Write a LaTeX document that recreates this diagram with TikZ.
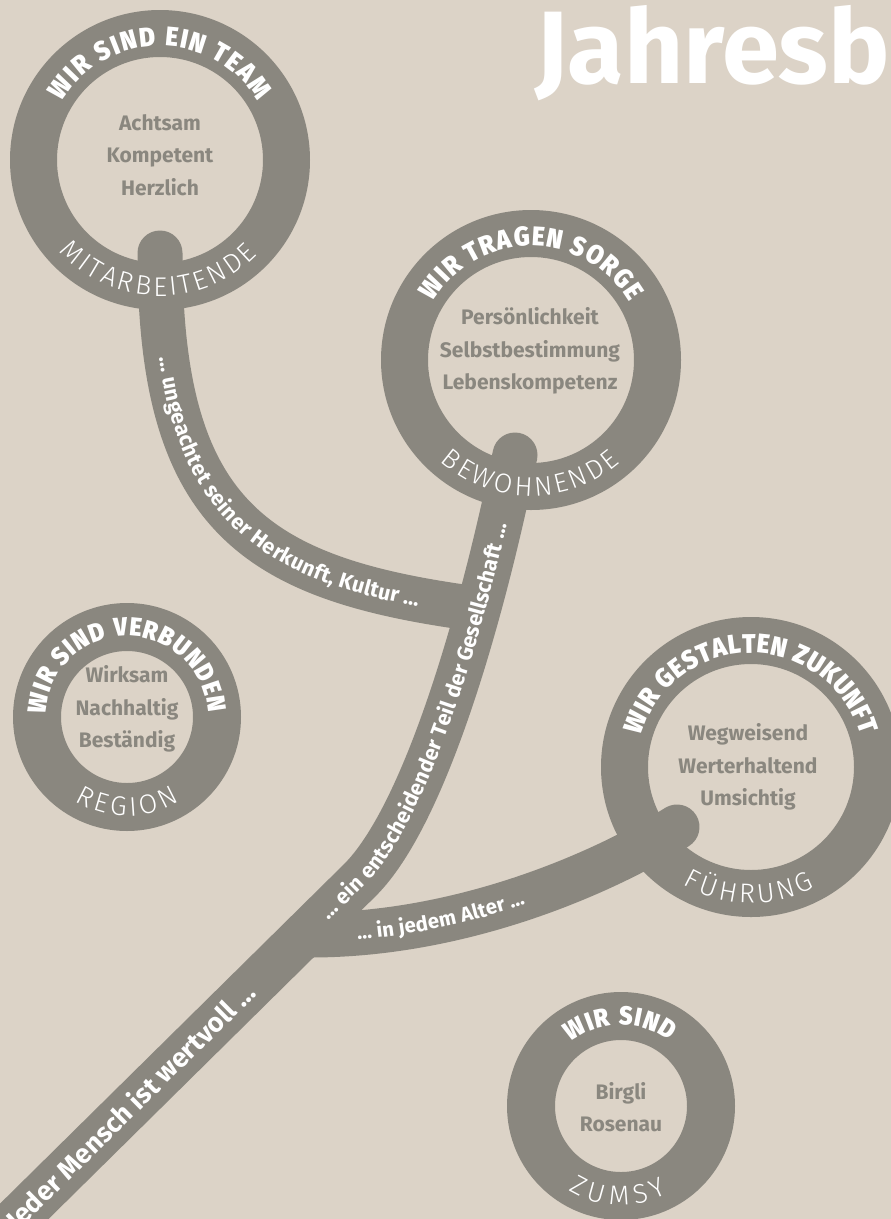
\documentclass[tikz,border=0pt]{standalone}
\usepackage{fontspec}
\setmainfont{Fira Sans}
\newfontfamily\fheavy{Fira Sans Black}[FakeStretch=0.9]
\newfontfamily\flight{Fira Sans Light}
\usetikzlibrary{decorations.text}
\definecolor{bg}{RGB}{220,211,199}
\definecolor{ringgray}{RGB}{138,135,127}
\tikzset{
  ringfill/.style={fill=ringgray, even odd rule},
  branch/.style={draw=ringgray, line width=45pt, line cap=round},
  innertext/.style={text=ringgray, font=\bfseries\fontsize{21}{32.5}\selectfont, align=center, inner sep=0pt},
  titletext/.style={text=white, font=\bfseries\fontsize{103}{103}\selectfont, anchor=base west, inner sep=0pt},
  toplabel/.style={decorate, decoration={text along path, text format delimiters={|}{|},
      text={|\color{white}\fheavy\fontsize{27}{27}\selectfont|#1}, text align=fit to path}},
  toplabelsmall/.style={decorate, decoration={text along path, text format delimiters={|}{|},
      text={|\color{white}\fheavy\fontsize{26}{26}\selectfont|#1}, text align=fit to path}},
  botlabel/.style={decorate, decoration={text along path, text format delimiters={|}{|},
      text={|\color{white}\flight\fontsize{27}{27}\selectfont|#1}, text align=fit to path}},
  stemtext/.style n args={4}{decorate, decoration={text along path, text format delimiters={|}{|},
      text={|\color{white}\bfseries\fontsize{#2}{#2}\selectfont|#4}, text align={left indent=#1}, raise=#3}},
}
\begin{document}
\begin{tikzpicture}[x=1pt,y=1pt]
\useasboundingbox (0,0) rectangle (891,-1219);
\fill[bg] (0,0) rectangle (891,-1219);
\clip (0,0) rectangle (891,-1219);

% centres and junctions
\coordinate (c1) at (160,-160);
\coordinate (c2) at (531,-360);
\coordinate (c3) at (127,-717);
\coordinate (c4) at (751,-767);
\coordinate (c5) at (621,-1106);
\coordinate (k1) at (160,-253);
\coordinate (k2) at (515,-455);
\coordinate (k4) at (677,-827);
\coordinate (j1) at (470,-608);
\coordinate (j3) at (310,-935);
\coordinate (s0) at (-20,-1255);
\coordinate (sb) at (360,-880);

% rings
\fill[ringfill] (c1) circle[radius=150pt] (c1) circle[radius=103pt];
\fill[ringfill] (c2) circle[radius=150pt] (c2) circle[radius=103pt];
\fill[ringfill] (c4) circle[radius=150pt] (c4) circle[radius=103pt];
\fill[ringfill] (c3) circle[radius=114pt] (c3) circle[radius=66pt];
\fill[ringfill] (c5) circle[radius=114pt] (c5) circle[radius=66pt];

% branches
\draw[branch] (s0) -- (sb) .. controls (424,-816) and (481,-622) .. (k2);
\draw[branch] (k1) .. controls (160,-513) and (252,-578) .. (j1);
\draw[branch] (j3) .. controls (460,-935) and (600,-875) .. (k4);

% texts on branches
\path[stemtext={43pt}{27}{-9.5pt}{Jeder Mensch ist wertvoll …}] (s0) -- (sb) .. controls (424,-816) and (481,-622) .. (k2);
\path[stemtext={483pt}{21.5}{-7pt}{… ein entscheidender Teil der Gesellschaft …}] (s0) -- (sb) .. controls (424,-816) and (481,-622) .. (k2);
\path[stemtext={104pt}{21.5}{-7pt}{… ungeachtet seiner Herkunft, Kultur …}] (k1) .. controls (160,-513) and (252,-578) .. (j1);
\path[stemtext={47pt}{20.5}{-6.5pt}{… in jedem Alter …}] (j3) .. controls (460,-935) and (600,-875) .. (k4);

% ring labels
\path[toplabel={WIR SIND EIN TEAM}] ([shift={(149:114pt)}]c1) arc[start angle=149, end angle=31, radius=114pt];
\path[botlabel={MITARBEITENDE}] ([shift={(222:136pt)}]c1) arc[start angle=222, end angle=316, radius=136pt];
\path[toplabel={WIR TRAGEN SORGE}] ([shift={(149:114pt)}]c2) arc[start angle=149, end angle=30.5, radius=114pt];
\path[botlabel={BEWOHNENDE}] ([shift={(228:136pt)}]c2) arc[start angle=228, end angle=311, radius=136pt];
\path[toplabel={WIR GESTALTEN ZUKUNFT}] ([shift={(164:114pt)}]c4) arc[start angle=164, end angle=16, radius=114pt];
\path[botlabel={FÜHRUNG}] ([shift={(240:136pt)}]c4) arc[start angle=240, end angle=298, radius=136pt];
\path[toplabelsmall={WIR SIND VERBUNDEN}] ([shift={(178:81pt)}]c3) arc[start angle=178, end angle=3, radius=81pt];
\path[botlabel={REGION}] ([shift={(238:99pt)}]c3) arc[start angle=238, end angle=302, radius=99pt];
\path[toplabelsmall={WIR SIND}] ([shift={(128:81pt)}]c5) arc[start angle=128, end angle=53, radius=81pt];
\path[botlabel={ZUMSY}] ([shift={(238:99pt)}]c5) arc[start angle=238, end angle=298, radius=99pt];

% inner texts
\node[innertext] (t1) at (160,-155) {Achtsam\\Kompetent\\Herzlich};
\node[innertext] (t2) at (530,-351) {Persönlichkeit\\Selbstbestimmung\\Lebenskompetenz};
\node[innertext] (t3) at (127,-709) {Wirksam\\Nachhaltig\\Beständig};
\node[innertext] (t4) at (748,-767) {Wegweisend\\Werterhaltend\\Umsichtig};
\node[innertext] (t5) at (621,-1107) {Birgli\\Rosenau};

% title
\node[titletext] (title) at (535,-83) {Jahresb};
\end{tikzpicture}
\end{document}
